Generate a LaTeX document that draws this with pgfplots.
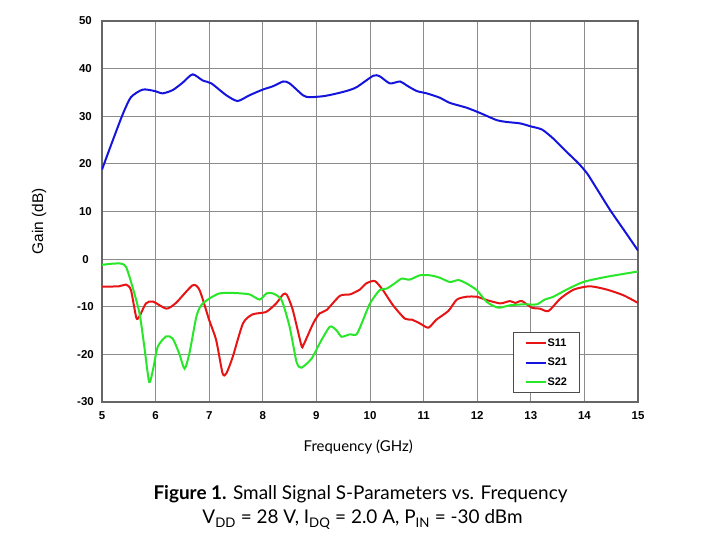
\documentclass[border=0pt]{standalone}
\usepackage{fontspec}
\setmainfont{Liberation Sans}
\newfontfamily\capfont{Lato}
\usepackage{pgfplots}
\pgfplotsset{compat=1.18}
\definecolor{sred}{RGB}{230,20,20}
\definecolor{sblue}{RGB}{20,20,220}
\definecolor{sgreen}{RGB}{40,230,40}
\begin{document}
\begin{tikzpicture}
\begin{axis}[
  name=ax,
  scale only axis,
  width=536bp, height=381bp,
  xmin=5, xmax=15, ymin=-30, ymax=50,
  xtick={5,6,...,15}, ytick={-30,-20,...,50},
  grid=major,
  major grid style={draw=black!45, line width=0.8bp},
  axis line style={draw=black!60, line width=1.2bp},
  major tick length=0pt,
  /pgf/number format/assume math mode=true,
  tick label style={font=\bfseries\fontsize{11.5}{13}\selectfont},
  yticklabel style={anchor=center, xshift=-16.5bp},
  xticklabel style={anchor=center, yshift=-14bp},
  xlabel={Frequency (GHz)},
  ylabel={Gain (dB)},
  every axis x label/.style={at={(rel axis cs:0.478,-0.118)}, anchor=center, font=\capfont\fontsize{15}{18}\selectfont},
  every axis y label/.style={at={(rel axis cs:-0.1175,0.475)}, rotate=90, anchor=center, font=\fontsize{15.5}{18}\selectfont},
  legend style={at={(axis cs:12.67,-15.4)}, anchor=north west, font=\bfseries\fontsize{11}{13}\selectfont,
    draw=black!70, line width=0.8bp, inner xsep=11bp, inner ysep=4.5bp, row sep=8.5bp,
    nodes={inner sep=1bp}},
  legend cell align=left,
  legend image code/.code={\draw[#1, line width=2bp] (0bp,0bp) -- (20bp,0bp);},
  every axis plot/.append style={line width=2bp, smooth, tension=0.4},
]
\addplot[sred] coordinates {
(5.00,-5.8) (5.32,-5.7) (5.45,-5.35) (5.54,-6.5) (5.64,-12.3) (5.70,-12.0)
(5.82,-9.3) (5.95,-8.9) (6.20,-10.4) (6.38,-9.2) (6.69,-5.5) (6.82,-6.5)
(7.00,-12.8) (7.13,-17.0) (7.25,-24.0) (7.32,-24.0) (7.44,-20.5) (7.63,-13.5)
(7.81,-11.6) (8.06,-11.1) (8.25,-9.3) (8.38,-7.4) (8.45,-7.5) (8.56,-10.7)
(8.72,-18.1) (8.76,-18.0) (8.94,-13.5) (9.06,-11.4) (9.19,-10.7) (9.44,-7.7)
(9.63,-7.4) (9.81,-6.4) (9.93,-5.1) (10.09,-4.6) (10.24,-6.5) (10.43,-9.7)
(10.65,-12.5) (10.78,-12.7) (10.93,-13.5) (11.09,-14.4) (11.24,-12.7) (11.46,-10.9)
(11.62,-8.5) (11.80,-7.9) (11.99,-7.9) (12.18,-8.6) (12.43,-9.3) (12.61,-8.8)
(12.71,-9.2) (12.83,-8.8) (13.02,-10.2) (13.17,-10.4) (13.33,-10.9) (13.55,-8.3)
(13.80,-6.4) (14.10,-5.7) (14.42,-6.4) (14.73,-7.6) (15.00,-9.2)
};
\addlegendentry{S11}
\addplot[sblue] coordinates {
(5.00,18.8) (5.20,24.9) (5.39,30.5) (5.54,34.0) (5.76,35.6) (5.98,35.3)
(6.13,34.8) (6.32,35.5) (6.50,37.0) (6.69,38.8) (6.88,37.5) (7.04,36.9)
(7.32,34.4) (7.53,33.2) (7.75,34.4) (8.00,35.6) (8.19,36.3) (8.38,37.3)
(8.50,36.9) (8.75,34.4) (8.87,34.0) (9.12,34.2) (9.31,34.6) (9.56,35.3)
(9.75,36.1) (10.06,38.5) (10.18,38.4) (10.37,36.9) (10.56,37.3) (10.68,36.5)
(10.87,35.3) (11.06,34.8) (11.30,33.9) (11.49,32.8) (11.80,31.8) (12.05,30.7)
(12.36,29.2) (12.55,28.8) (12.80,28.5) (12.99,27.9) (13.21,27.2) (13.42,25.3)
(13.67,22.5) (13.89,20.1) (14.05,18.0) (14.23,14.8) (14.48,10.3) (14.75,5.9)
(15.00,1.8)
};
\addlegendentry{S21}
\addplot[sgreen] coordinates {
(5.00,-1.2) (5.20,-0.95) (5.36,-0.95) (5.45,-1.65) (5.57,-5.85) (5.70,-11.4)
(5.79,-18.4) (5.88,-25.8) (5.95,-23.3) (6.04,-18.4) (6.20,-16.2) (6.32,-16.7)
(6.44,-19.8) (6.54,-23.0) (6.63,-19.8) (6.76,-12.1) (6.85,-9.7) (7.00,-8.3)
(7.19,-7.2) (7.44,-7.1) (7.75,-7.4) (7.94,-8.5) (8.07,-7.2) (8.19,-7.2)
(8.35,-8.6) (8.50,-14.2) (8.63,-21.6) (8.72,-22.8) (8.91,-20.9) (9.06,-17.7)
(9.25,-14.2) (9.37,-14.9) (9.47,-16.3) (9.62,-15.8) (9.75,-15.8) (9.87,-12.8)
(10.00,-9.3) (10.18,-6.5) (10.31,-6.2) (10.46,-5.1) (10.59,-4.1) (10.74,-4.3)
(10.93,-3.4) (11.12,-3.4) (11.30,-3.9) (11.49,-4.8) (11.65,-4.4) (11.80,-5.1)
(11.99,-6.5) (12.18,-9.0) (12.39,-10.2) (12.61,-9.7) (12.86,-9.5) (13.11,-9.5)
(13.26,-8.5) (13.42,-7.9) (13.67,-6.4) (13.98,-4.8) (14.42,-3.7) (15.00,-2.6)
};
\addlegendentry{S22}
\end{axis}
\node[anchor=base, font=\capfont\fontsize{19}{22}\selectfont] at ([xshift=258.5bp,yshift=-98bp]ax.south west)
  {\textbf{Figure 1.} Small Signal S-Parameters vs. Frequency};
\node[anchor=base, font=\capfont\fontsize{19}{22}\selectfont] at ([xshift=260.5bp,yshift=-122bp]ax.south west)
  {V\textsubscript{DD} = 28 V, I\textsubscript{DQ} = 2.0 A, P\textsubscript{IN} = -30 dBm};
\path ([xshift=-102bp,yshift=-154bp]ax.south west) rectangle ([xshift=82bp,yshift=21bp]ax.north east);
\end{tikzpicture}
\end{document}
